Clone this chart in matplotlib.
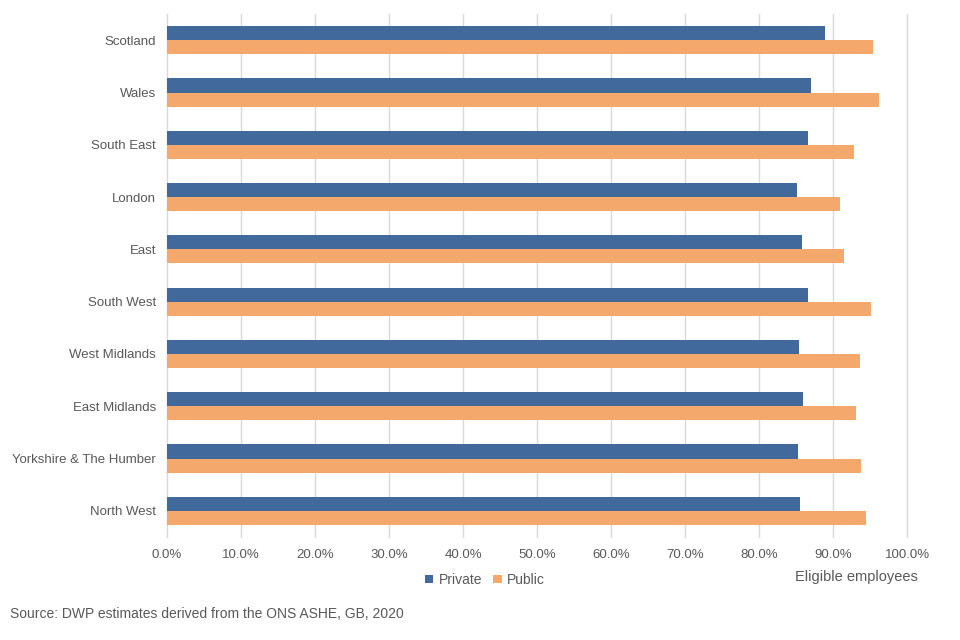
import numpy as np
import matplotlib.pyplot as plt
from matplotlib.ticker import FuncFormatter

plt.rcParams['font.family'] = ['Liberation Sans', 'DejaVu Sans']

regions = ["Scotland", "Wales", "South East", "London", "East", "South West",
           "West Midlands", "East Midlands", "Yorkshire & The Humber", "North West"]
private = [88.9, 87.0, 86.6, 85.1, 85.8, 86.6, 85.4, 85.9, 85.2, 85.5]
public = [95.4, 96.2, 92.8, 90.9, 91.5, 95.1, 93.6, 93.1, 93.7, 94.4]

blue = "#41699C"
orange = "#F5A86B"
grey = "#595959"

fig = plt.figure(figsize=(9.6, 6.4), dpi=100)
ax = fig.add_axes([0.174, 0.161, 0.771, 0.817])

y = np.arange(len(regions))
h = 0.27
ax.barh(y - h / 2, private, height=h, color=blue, label="Private", zorder=3)
ax.barh(y + h / 2, public, height=h, color=orange, label="Public", zorder=3)

ax.set_ylim(len(regions) - 0.5, -0.5)
ax.set_xlim(0, 100)
ax.set_xticks(np.arange(0, 101, 10))
ax.xaxis.set_major_formatter(FuncFormatter(lambda v, p: f"{v:.1f}%"))
ax.set_yticks(y)
ax.set_yticklabels(regions)

ax.grid(axis="x", color="#D9D9D9", linewidth=1, zorder=0)
for line in ax.get_xgridlines():
    line.set_clip_on(False)
for s in ["top", "right", "bottom"]:
    ax.spines[s].set_visible(False)
ax.spines["left"].set_color("#D9D9D9")
ax.tick_params(axis="both", length=0, colors=grey, labelsize=9.5)
ax.tick_params(axis="x", pad=9)
ax.tick_params(axis="y", pad=8)

leg = fig.legend(loc="center", bbox_to_anchor=(0.505, 0.094), ncol=2, frameon=False,
                 fontsize=10, handlelength=0.6, handleheight=0.6, handletextpad=0.4,
                 columnspacing=0.8)
for t in leg.get_texts():
    t.set_color(grey)

fig.text(0.828, 0.092, "Eligible employees", color=grey, fontsize=10.5)
fig.text(0.01, 0.034, "Source: DWP estimates derived from the ONS ASHE, GB, 2020",
         color=grey, fontsize=10)

fig.savefig("out.png", dpi=100)
